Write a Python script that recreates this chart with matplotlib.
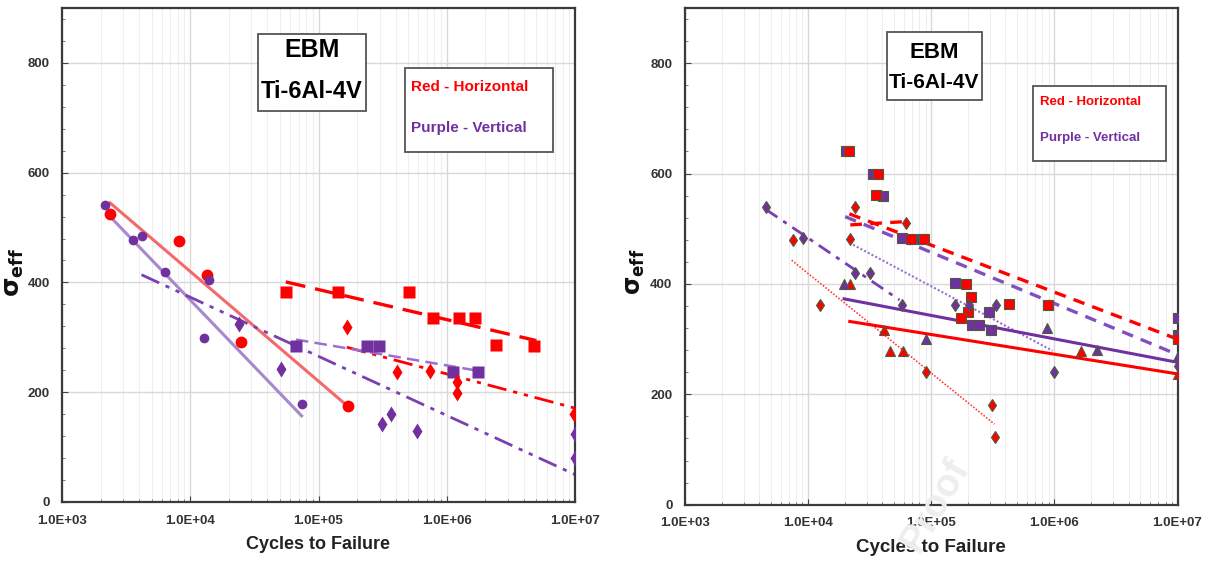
import numpy as np
import matplotlib
matplotlib.use('Agg')
import matplotlib.pyplot as plt
from matplotlib.patches import Rectangle
from matplotlib.ticker import FuncFormatter, LogLocator, MultipleLocator

# ---- data: left panel (sigma_eff vs cycles to failure) ----
L_red_circ_N = [2370, 8100, 13600, 24800, 170000]
L_red_circ_S = [524, 475, 413, 291, 174]
L_pur_circ_N = [2170, 3560, 4240, 6310, 12900, 14000, 73800]
L_pur_circ_S = [542, 478, 484, 419, 298, 404, 179]
L_red_sq_N = [55600, 141000, 511000, 777000, 1.25e6, 1.66e6, 2.4e6, 4.8e6]
L_red_sq_S = [383, 382, 382, 335, 335, 335, 286, 285]
L_pur_sq_N = [66800, 240000, 298000, 1.12e6, 1.76e6]
L_pur_sq_S = [284, 284, 285, 236, 237]
L_red_dia_N = [166000, 410000, 741000, 1.2e6, 1.2e6, 9.8e6]
L_red_dia_S = [318, 237, 239, 219, 198, 160]
L_pur_dia_N = [23800, 50800, 310000, 365000, 590000, 1e7, 1e7]
L_pur_dia_S = [324, 243, 143, 161, 129, 123, 81]

# trend lines left (endpoints)
L_red_solid_N, L_red_solid_S = [2370, 170000], [545, 174]
L_pur_solid_N, L_pur_solid_S = [2240, 73800], [526, 157]
L_red_dash_N, L_red_dash_S = [55600, 5.0e6], [401, 294]
L_red_dd_N, L_red_dd_S = [166000, 1e7], [282, 171]
L_pur_dash_N, L_pur_dash_S = [66800, 1.76e6], [296, 239]
L_pur_dd_N, L_pur_dd_S = [4170, 1e7], [414, 50]

# ---- data: right panel ----
R_red_sq_N = [21500, 36700, 35800, 68800, 88000, 192000, 211000, 198000, 175000, 431000, 893000, 1e7]
R_red_sq_S = [641, 600, 561, 481, 482, 400, 376, 350, 338, 363, 362, 300]
R_pur_sq_N = [20200, 33700, 40500, 58200, 84000, 156000, 213000, 246000, 297000, 306000, 1e7, 1e7]
R_pur_sq_S = [641, 600, 559, 483, 482, 402, 326, 326, 350, 316, 338, 308]
R_red_dia_N = [7470, 12400, 23900, 22000, 61900, 91200, 309000, 330000]
R_red_dia_S = [479, 361, 540, 481, 511, 240, 180, 122]
R_pur_dia_N = [4540, 9020, 24000, 32000, 58200, 155000, 204000, 337000, 984000, 1e7]
R_pur_dia_S = [540, 483, 419, 420, 361, 361, 362, 361, 240, 252]
R_red_tri_N = [21800, 41000, 45900, 58900, 1.66e6, 1e7]
R_red_tri_S = [399, 317, 279, 278, 278, 237]
R_pur_tri_N = [19600, 89900, 871000, 2.21e6, 1e7]
R_pur_tri_S = [399, 300, 320, 280, 270]

R_red_dash_N, R_red_dash_S = [21600, 1e7], [527, 300]
R_red_flat_N, R_red_flat_S = [22000, 62000], [507, 513]
R_pur_dash_N, R_pur_dash_S = [20000, 1e7], [522, 272]
R_pur_dot_N, R_pur_dot_S = [23200, 966000], [471, 279]
R_red_dot_N, R_red_dot_S = [7350, 326000], [443, 146]
R_pur_dd_N, R_pur_dd_S = [4540, 55200], [535, 371]
R_pur_solid_N, R_pur_solid_S = [19600, 1e7], [373, 258]
R_red_solid_N, R_red_solid_S = [21800, 1e7], [332, 237]

x_ticks = [1e3, 1e4, 1e5, 1e6, 1e7]
y_ticks = [0, 200, 400, 600, 800]

RED = '#ff0000'
PURPLE = '#7030a0'

plt.rcParams['font.family'] = ['Liberation Sans', 'DejaVu Sans']
plt.rcParams['mathtext.fontset'] = 'dejavusans'

W, H = 1212, 569
fig = plt.figure(figsize=(W / 100, H / 100), dpi=100)


def px(x, y):
    return x / W, 1 - y / H


def style_axes(ax, label_size, xlab_size):
    ax.set_xscale('log')
    ax.set_xlim(1e3, 1e7)
    ax.set_ylim(0, 900)
    ax.set_xticks(x_ticks)
    ax.xaxis.set_major_formatter(FuncFormatter(lambda v, p: f'{v:.1E}'))
    ax.xaxis.set_minor_locator(LogLocator(base=10, subs=np.arange(2, 10)))
    ax.xaxis.set_minor_formatter(FuncFormatter(lambda v, p: ''))
    ax.set_yticks(y_ticks)
    ax.yaxis.set_minor_locator(MultipleLocator(40))
    ax.grid(True, which='major', color='#d8d8d8', lw=1.0)
    ax.grid(True, which='minor', axis='x', color='#eeeeee', lw=0.8)
    ax.set_axisbelow(True)
    ax.tick_params(which='major', direction='in', length=4, color='#444444',
                   labelsize=label_size, pad=9)
    ax.tick_params(which='minor', direction='in', length=2.5, color='#666666')
    for lab in ax.get_xticklabels() + ax.get_yticklabels():
        lab.set_fontweight('bold')
        lab.set_color('#333333')
    for s in ax.spines.values():
        s.set_color('#3a3a3a')
        s.set_linewidth(1.6)
    ax.set_xlabel('Cycles to Failure', fontsize=xlab_size, fontweight='bold',
                  color='#222222', labelpad=7)


# ---------------- left panel ----------------
axL = fig.add_axes([62 / W, 1 - 502 / H, (575 - 62) / W, (502 - 8) / H])
style_axes(axL, 9.5, 13)

axL.plot(L_red_solid_N, L_red_solid_S, color='#f46a6a', lw=2.2, zorder=2)
axL.plot(L_pur_solid_N, L_pur_solid_S, color='#a688cc', lw=2.2, zorder=2)
axL.plot(L_red_dash_N, L_red_dash_S, color=RED, lw=2.4, ls=(0, (6, 3)), zorder=2)
axL.plot(L_red_dd_N, L_red_dd_S, color=RED, lw=2.0, ls=(0, (7, 2.5, 1.5, 2.5, 1.5, 2.5)), zorder=2)
axL.plot(L_pur_dash_N, L_pur_dash_S, color='#9b6fd0', lw=1.8, ls=(0, (5, 2.5)), zorder=2)
axL.plot(L_pur_dd_N, L_pur_dd_S, color='#7a3fb0', lw=2.0, ls=(0, (7, 2.5, 1.5, 2.5, 1.5, 2.5)), zorder=2)

axL.plot(L_red_circ_N, L_red_circ_S, 'o', color=RED, ms=8.5, mec='none', zorder=3)
axL.plot(L_pur_circ_N, L_pur_circ_S, 'o', color=PURPLE, ms=7, mec='none', zorder=3)
axL.plot(L_red_sq_N, L_red_sq_S, 's', color=RED, ms=8, mec='none', zorder=3)
axL.plot(L_pur_sq_N, L_pur_sq_S, 's', color=PURPLE, ms=8, mec='none', zorder=3)
axL.plot(L_red_dia_N, L_red_dia_S, 'd', color=RED, ms=8, mec='none', zorder=3)
axL.plot(L_pur_dia_N, L_pur_dia_S, 'd', color=PURPLE, ms=8, mec='none', zorder=3)

# ---------------- right panel ----------------
axR = fig.add_axes([685 / W, 1 - 504.7 / H, (1177.5 - 685) / W, (504.7 - 8) / H])
style_axes(axR, 9.5, 13.5)

axR.plot(R_red_dash_N, R_red_dash_S, color=RED, lw=2.4, ls=(0, (3.5, 2.5)), zorder=2)
axR.plot(R_red_flat_N, R_red_flat_S, color=RED, lw=2.4, ls=(0, (3.5, 2.5)), zorder=2)
axR.plot(R_pur_dash_N, R_pur_dash_S, color='#8050c0', lw=2.4, ls=(0, (3.5, 2.5)), zorder=2)
axR.plot(R_pur_dot_N, R_pur_dot_S, color='#9a70d0', lw=1.5, ls=(0, (1, 1)), zorder=2)
axR.plot(R_red_dot_N, R_red_dot_S, color='#ff4040', lw=1.2, ls=(0, (1, 1)), zorder=2)
axR.plot(R_pur_dd_N, R_pur_dd_S, color='#7a3fb0', lw=2.0, ls=(0, (5, 2.5, 1.5, 2.5)), zorder=2)
axR.plot(R_pur_solid_N, R_pur_solid_S, color=PURPLE, lw=2.2, zorder=2)
axR.plot(R_red_solid_N, R_red_solid_S, color=RED, lw=2.2, zorder=2)

EDGE = '#4d5b3c'
mk = dict(ls='none', mec=EDGE, mew=0.8, zorder=3)
axR.plot(R_pur_sq_N, R_pur_sq_S, 's', color=PURPLE, ms=6.5, **mk)
axR.plot(R_red_sq_N, R_red_sq_S, 's', color=RED, ms=6.5, **mk)
axR.plot(R_red_dia_N, R_red_dia_S, 'd', color=RED, ms=6.5, **mk)
axR.plot(R_pur_dia_N, R_pur_dia_S, 'd', color=PURPLE, ms=6.5, **mk)
axR.plot(R_red_tri_N, R_red_tri_S, '^', color=RED, ms=6.5, **mk)
axR.plot(R_pur_tri_N, R_pur_tri_S, '^', color=PURPLE, ms=6.5, **mk)

# ---------------- annotation boxes ----------------
def box(x0, y0, x1, y1):
    fig.patches.append(Rectangle(px(x0, y1), (x1 - x0) / W, (y1 - y0) / H,
                                 transform=fig.transFigure, fc='white',
                                 ec='#555555', lw=1.3, zorder=5))


box(258, 34, 366, 111)
fig.text(*px(312, 50), 'EBM', ha='center', va='center', fontsize=18, fontweight='bold', zorder=6)
fig.text(*px(312, 91), 'Ti-6Al-4V', ha='center', va='center', fontsize=17, fontweight='bold', zorder=6)

box(405, 68, 553, 152)
fig.text(*px(411, 87), 'Red - Horizontal', ha='left', va='center', fontsize=11,
         fontweight='bold', color=RED, zorder=6)
fig.text(*px(411, 128), 'Purple - Vertical', ha='left', va='center', fontsize=11,
         fontweight='bold', color=PURPLE, zorder=6)

box(887, 32, 982, 100)
fig.text(*px(934, 52), 'EBM', ha='center', va='center', fontsize=16, fontweight='bold', zorder=6)
fig.text(*px(934, 83), 'Ti-6Al-4V', ha='center', va='center', fontsize=15, fontweight='bold', zorder=6)

box(1033, 86, 1166, 161)
fig.text(*px(1040, 102), 'Red - Horizontal', ha='left', va='center', fontsize=9.5,
         fontweight='bold', color=RED, zorder=6)
fig.text(*px(1040, 138), 'Purple - Vertical', ha='left', va='center', fontsize=9.5,
         fontweight='bold', color=PURPLE, zorder=6)

# y labels
fig.text(*px(14, 272), r'$\mathbf{\sigma_{eff}}$', rotation=90, ha='center', va='center',
         fontsize=18, color='#111111')
fig.text(*px(636, 272), r'$\mathbf{\sigma_{eff}}$', rotation=90, ha='center', va='center',
         fontsize=17, color='#111111')

# faint watermark
fig.text(*px(935, 505), 'Proof', rotation=60, ha='center', va='center', fontsize=28,
         color='#eeeeee', fontweight='bold', zorder=1)

fig.savefig('out.png', dpi=100)
